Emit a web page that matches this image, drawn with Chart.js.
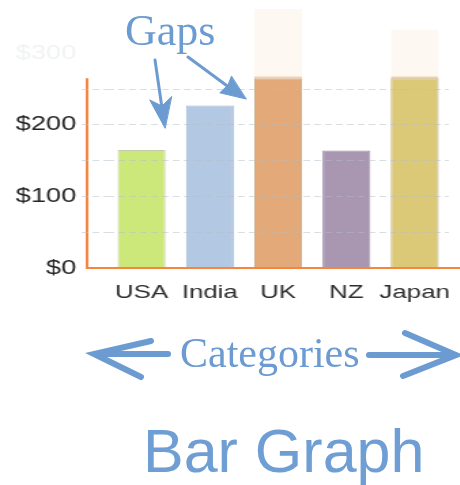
<!DOCTYPE html>
<html>
<head>
<meta charset="utf-8">
<script src="https://cdn.jsdelivr.net/npm/chart.js@4.4.1/dist/chart.umd.min.js"></script>
<style>
  html, body { margin: 0; padding: 0; background: #fff; overflow: hidden; }
  #wrap { position: relative; width: 460px; height: 485px; }
  /* the chart is drawn narrow and stretched sideways */
  #barChart { position: absolute; left: 0; top: 0; transform: scaleX(1.36); transform-origin: 0 0; }
  #notes { position: absolute; left: 0; top: 0; pointer-events: none; }
  #notes text { fill: #6b9bd1; }
</style>
</head>
<body>
<div id="wrap">
  <canvas id="barChart" width="338" height="305"></canvas>
  <svg id="notes" width="460" height="485">
    <text x="125" y="45" font-family="Liberation Serif, serif" font-size="44">Gaps</text>
    <g stroke="#6b9bd1" stroke-width="3" stroke-linecap="round" fill="#6b9bd1">
      <line x1="155" y1="60" x2="162" y2="108"/>
      <path d="M165 128 L149.7 99.9 L162 106 L171.5 96.7 Z" stroke-width="1"/>
      <line x1="188" y1="57" x2="230" y2="88"/>
      <path d="M246 99 L219.8 92.8 L228 85 L231.4 76.4 Z" stroke-width="1"/>
    </g>
    <text x="180" y="367" font-family="Liberation Serif, serif" font-size="42">Categories</text>
    <g stroke="#6b9bd1" stroke-width="6" stroke-linecap="round" fill="none">
      <line x1="96" y1="354" x2="168" y2="354"/>
      <polyline points="151,341 94,354 141,377"/>
      <line x1="369" y1="355" x2="454" y2="355"/>
      <polyline points="405,333 456,355 403,376"/>
    </g>
    <text x="143" y="472" font-family="Liberation Sans, Arial, sans-serif" font-size="61" style="fill:#6e9ed3">Bar Graph</text>
  </svg>
</div>
<script>
const categories = ["USA", "India", "UK", "NZ", "Japan"];
const spending = [165, 227, 362, 164, 333];
const yTicks = [0, 50, 100, 150, 200, 250, 300, 350];
const cutoff = 265;   // the axis stops here, anything above is faded out
const yMax = 352;

const barFill = ["#cde87a", "#b3c8e3", "#e3a978", "#a996b0", "#dcc978"];
const barEdge = ["#c3cba8", "#9fb4cf", "#c8a987", "#9d8ea8", "#b7aa78"];

const shown = spending.map(v => Math.min(v, cutoff));
const over = spending.map(v => Math.max(v - cutoff, 0));

// orange axis lines, the left one only runs up to the cutoff
const axisLines = {
    id: "axisLines",
    afterDatasetsDraw(chart) {
        const { ctx, chartArea, scales: { y } } = chart;
        const x0 = chartArea.left - 15;
        const yBase = y.getPixelForValue(0);
        const yTop = y.getPixelForValue(cutoff);
        ctx.save();
        ctx.strokeStyle = "#f5853f";
        ctx.lineWidth = 2;
        ctx.beginPath();
        ctx.moveTo(x0, yTop);
        ctx.lineTo(x0, yBase);
        ctx.lineTo(chart.width, yBase);
        ctx.stroke();
        ctx.restore();
    }
};

const inRange = v => v > 0 && v <= cutoff;
const gridColor = c => inRange(c.tick.value) ? "rgba(180,190,200,0.5)" : "rgba(0,0,0,0)";

new Chart(document.getElementById("barChart"), {
    type: "bar",
    data: {
        labels: categories,
        datasets: [{
            data: shown,
            backgroundColor: barFill,
            borderColor: barEdge,
            borderWidth: 1,
            barPercentage: 0.7,
            categoryPercentage: 1
        }, {
            data: over,
            backgroundColor: "#fdf8f2",
            borderColor: "#f9d0a4",
            borderWidth: { top: 0, right: 0, bottom: 2, left: 0 },
            borderSkipped: false,
            barPercentage: 0.7,
            categoryPercentage: 1
        }]
    },
    options: {
        responsive: false,
        maintainAspectRatio: false,
        animation: false,
        layout: { padding: { left: 0, right: 8, top: 0, bottom: 0 } },
        plugins: { legend: { display: false }, tooltip: { enabled: false } },
        datasets: { bar: { clip: false } },
        scales: {
            x: {
                stacked: true,
                grid: { display: false, drawTicks: false },
                border: { display: false },
                ticks: {
                    color: "#2e2e2e",
                    padding: 13,
                    maxRotation: 0,
                    minRotation: 0,
                    autoSkip: false,
                    font: { family: "Liberation Sans, Arial, sans-serif", size: 19 }
                },
                afterFit: s => {
                    s.height = 37;
                    // "Japan" may hang past the edge, don't squeeze the bars for it
                    s.paddingLeft = 0;
                    s.paddingRight = 0;
                }
            },
            y: {
                stacked: true,
                min: 0,
                max: yMax,
                bounds: "data",
                grid: {
                    z: 1,
                    color: gridColor,
                    tickColor: gridColor,
                    tickLength: 19,
                    tickBorderDash: [5, 3]
                },
                border: { display: false, dash: [5, 3] },
                ticks: {
                    autoSkip: false,
                    padding: 4,
                    color: c => c.tick.value > cutoff ? "#f0f2f4" : "#252525",
                    font: { family: "Liberation Sans, Arial, sans-serif", size: 20 },
                    callback: v => v % 100 === 0 ? "$" + v : ""
                },
                afterBuildTicks: s => { s.ticks = yTicks.map(v => ({ value: v })); },
                afterFit: s => { s.width = 79; }
            }
        }
    },
    plugins: [axisLines]
});
</script>
</body>
</html>
